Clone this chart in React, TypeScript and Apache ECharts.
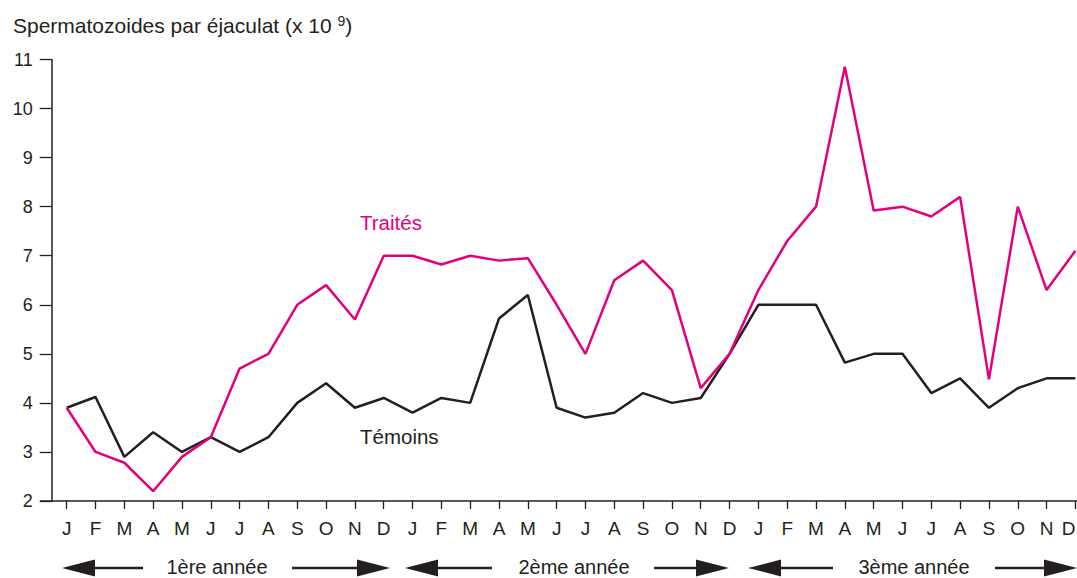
import React, { useEffect, useRef } from "react";
import * as echarts from "echarts";

const months = ["J","F","M","A","M","J","J","A","S","O","N","D"];
const categories = [...months, ...months, ...months];
const traites = [
  3.9, 3.0, 2.78, 2.2, 2.9, 3.3, 4.7, 5.0, 6.0, 6.4, 5.7, 7.0,
  7.0, 6.82, 7.0, 6.9, 6.95, 6.0, 5.0, 6.5, 6.9, 6.3, 4.3, 5.0,
  6.3, 7.3, 8.0, 10.85, 7.92, 8.0, 7.8, 8.2, 4.48, 8.0, 6.3, 7.1,
];
const temoins = [
  3.9, 4.12, 2.9, 3.4, 3.0, 3.3, 3.0, 3.3, 4.0, 4.4, 3.9, 4.1,
  3.8, 4.1, 4.0, 5.72, 6.2, 3.9, 3.7, 3.8, 4.2, 4.0, 4.1, 5.0,
  6.0, 6.0, 6.0, 4.82, 5.0, 5.0, 4.2, 4.5, 3.9, 4.3, 4.5, 4.5,
];
const yearLabels = ["1ère année", "2ème année", "3ème année"];
const yTicks = { min: 2, max: 11, interval: 1 };

const INK = "#231F20";
const PINK = "#E4007C";
const FONT = "Liberation Sans, Arial, Helvetica, sans-serif";

export default function App() {
  const ref = useRef<HTMLDivElement>(null);
  useEffect(() => {
    document.body.style.margin = "0";
    document.body.style.overflow = "hidden";
    if (!ref.current) return;
    const chart = echarts.init(ref.current, undefined, { renderer: "svg" });

    // year arrows: [leftTip, leftLineEnd, rightLineStart, rightTip, textCenter]
    const arrows = [
      [62, 143, 292, 390, 217],
      [405, 492, 654, 729, 574],
      [748, 833, 995, 1077, 914],
    ];
    const ay = 568;
    const head = 33;
    const hh = 8.5;
    const arrowGraphics: any[] = [];
    arrows.forEach((a, i) => {
      const [l, le, rs, r, c] = a;
      arrowGraphics.push(
        { type: "polygon", shape: { points: [[l, ay], [l + head, ay - hh], [l + head, ay + hh]] }, style: { fill: INK } },
        { type: "line", shape: { x1: l + head, y1: ay, x2: le, y2: ay }, style: { stroke: INK, lineWidth: 2.5 } },
        { type: "line", shape: { x1: rs, y1: ay, x2: r - head, y2: ay }, style: { stroke: INK, lineWidth: 2.5 } },
        { type: "polygon", shape: { points: [[r, ay], [r - head, ay - hh], [r - head, ay + hh]] }, style: { fill: INK } },
        {
          type: "text", x: c, y: ay - 1,
          style: { text: yearLabels[i], fill: INK, fontSize: 20, fontFamily: FONT, align: "center", verticalAlign: "middle" },
        },
      );
    });

    chart.setOption({
      animation: false,
      backgroundColor: "#ffffff",
      grid: { left: 66.7, width: 1008.7, top: 59.5, bottom: 77, outerBoundsMode: "none", containLabel: false },
      xAxis: {
        type: "category",
        data: categories,
        boundaryGap: false,
        axisLine: { show: false },
        axisTick: { show: true, length: 8, lineStyle: { color: INK, width: 1.3 } },
        axisLabel: {
          interval: 0, color: INK, fontSize: 19, fontFamily: FONT, margin: 18,
          hideOverlap: false, alignMaxLabel: "right",
        },
        splitLine: { show: false },
      },
      yAxis: {
        type: "value",
        min: yTicks.min,
        max: yTicks.max,
        interval: yTicks.interval,
        offset: 15,
        axisLine: { show: true, lineStyle: { color: INK, width: 1.5 } },
        axisTick: { show: true, length: 12, lineStyle: { color: INK, width: 1.3 } },
        axisLabel: { color: INK, fontSize: 18, fontFamily: FONT, margin: 19 },
        splitLine: { show: false },
      },
      series: [
        { name: "Témoins", type: "line", data: temoins, symbol: "none", lineStyle: { color: INK, width: 2.5 }, z: 2 },
        { name: "Traités", type: "line", data: traites, symbol: "none", lineStyle: { color: PINK, width: 2.5 }, z: 3 },
      ],
      graphic: [
        { type: "line", shape: { x1: 40, y1: 501, x2: 1077, y2: 501 }, style: { stroke: INK, lineWidth: 1.5 } },
        {
          type: "text", x: 13, y: 25,
          style: {
            text: "{a|Spermatozoides par éjaculat (x 10 }{s|9}{a|)}",
            verticalAlign: "middle",
            rich: {
              a: { fontSize: 21, fontFamily: FONT, fill: INK, color: INK },
              s: { fontSize: 14, fontFamily: FONT, fill: INK, color: INK, padding: [0, 0, 9, 0] },
            },
          },
        },
        { type: "text", x: 360, y: 222, style: { text: "Traités", fill: PINK, fontSize: 20.5, fontFamily: FONT, verticalAlign: "middle" } },
        { type: "text", x: 360, y: 436, style: { text: "Témoins", fill: INK, fontSize: 20.5, fontFamily: FONT, verticalAlign: "middle" } },
        ...arrowGraphics,
      ],
    });
    return () => chart.dispose();
  }, []);
  return <div ref={ref} style={{ width: 1077, height: 578, background: "#fff" }} />;
}
